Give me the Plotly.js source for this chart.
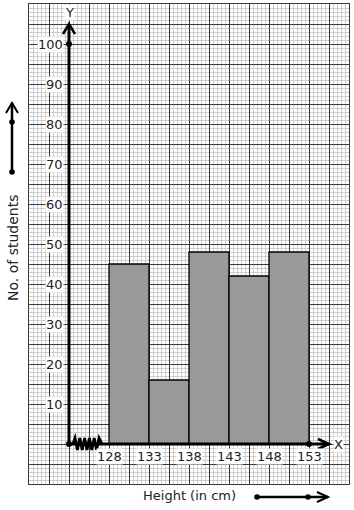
<!DOCTYPE html>
<html>
<head>
<meta charset="utf-8">
<script src="https://cdn.plot.ly/plotly-3.0.1.min.js"></script>
<style>html,body{margin:0;padding:0;background:#fff;}#chart{width:354px;height:510px;}</style>
</head>
<body>
<div id="chart"></div>
<script>
// Data
var classStarts = [128, 133, 138, 143, 148];
var classWidth = 5;
var students = [45, 16, 48, 42, 48];
var xTickLabels = [128, 133, 138, 143, 148, 153];
var yTickLabels = [10, 20, 30, 40, 50, 60, 70, 80, 90, 100];
var xTitle = 'Height (in cm)';
var yTitle = 'No. of students';

var X0 = 123, Y0 = 0;           // origin of the drawn axes (data units)
var XR = [118, 158], YR = [-10, 110];
var W = 354, H = 510, ML = 29, MR = 5, MT = 4, MB = 26;
var PW = W - ML - MR, PH = H - MT - MB;
var ux = PW / (XR[1] - XR[0]);   // px per x unit
var uy = PH / (YR[1] - YR[0]);   // px per y unit
function dx(px) { return px / ux; }
function dy(px) { return px / uy; }
function pxX(p) { return (p - ML) / PW; }
function pxY(p) { return (H - MB - p) / PH; }

var centers = classStarts.map(function (s) { return s + classWidth / 2; });

var trace = {
  type: 'bar',
  x: centers,
  y: students,
  width: classStarts.map(function () { return classWidth; }),
  marker: { color: '#999999', line: { color: '#000', width: 1.3 } },
  hoverinfo: 'skip'
};

var shapes = [];
var axisTopY = 105, axisRightX = 155.5;
// axes lines
shapes.push({ type: 'line', xref: 'x', yref: 'y', x0: X0, y0: Y0, x1: X0, y1: axisTopY, line: { color: '#000', width: 3 } });
shapes.push({ type: 'line', xref: 'x', yref: 'y', x0: X0, y0: Y0, x1: axisRightX, y1: Y0, line: { color: '#000', width: 3 } });
// arrowheads
shapes.push({ type: 'path', xref: 'x', yref: 'y',
  path: 'M' + (X0 - dx(6)) + ',' + (axisTopY - dy(10)) + ' L' + X0 + ',' + axisTopY + ' L' + (X0 + dx(6)) + ',' + (axisTopY - dy(10)),
  line: { color: '#000', width: 2.5 } });
shapes.push({ type: 'path', xref: 'x', yref: 'y',
  path: 'M' + (axisRightX - dx(11)) + ',' + (Y0 + dy(5)) + ' L' + axisRightX + ',' + Y0 + ' L' + (axisRightX - dx(11)) + ',' + (Y0 - dy(5)),
  line: { color: '#000', width: 2.5 } });
// zigzag (kink)
var zz = 'M' + (X0 + dx(4)) + ',' + Y0;
var n = 10, zx0 = X0 + dx(6), zx1 = X0 + dx(30);
for (var i = 0; i <= n; i++) {
  var xx = zx0 + (zx1 - zx0) * i / n;
  var yy = Y0 + (i % 2 === 0 ? dy(6) : -dy(6));
  zz += ' L' + xx + ',' + yy;
}
zz += ' L' + (X0 + dx(33)) + ',' + Y0;
shapes.push({ type: 'path', xref: 'x', yref: 'y', path: zz, line: { color: '#000', width: 2.8 } });
// dots
function dot(x, y) {
  shapes.push({ type: 'circle', xref: 'x', yref: 'y', x0: x - dx(3), x1: x + dx(3), y0: y - dy(3), y1: y + dy(3),
    fillcolor: '#000', line: { color: '#000', width: 0 } });
}
dot(X0, Y0);
dot(X0, yTickLabels[yTickLabels.length - 1]);
dot(xTickLabels[xTickLabels.length - 1], Y0);

// outside arrows (paper)
function pdot(px, py) {
  shapes.push({ type: 'circle', xref: 'paper', yref: 'paper',
    x0: pxX(px - 2.8), x1: pxX(px + 2.8), y0: pxY(py + 2.8), y1: pxY(py - 2.8),
    fillcolor: '#000', line: { color: '#000', width: 0 } });
}
shapes.push({ type: 'line', xref: 'paper', yref: 'paper', x0: pxX(12), y0: pxY(172), x1: pxX(12), y1: pxY(103), line: { color: '#000', width: 2.5 } });
shapes.push({ type: 'path', xref: 'paper', yref: 'paper',
  path: 'M' + pxX(6) + ',' + pxY(113) + ' L' + pxX(12) + ',' + pxY(103) + ' L' + pxX(18) + ',' + pxY(113),
  line: { color: '#000', width: 2 } });
pdot(12, 172); pdot(12, 122);
shapes.push({ type: 'line', xref: 'paper', yref: 'paper', x0: pxX(257), y0: pxY(497), x1: pxX(328), y1: pxY(497), line: { color: '#000', width: 2.5 } });
shapes.push({ type: 'path', xref: 'paper', yref: 'paper',
  path: 'M' + pxX(317) + ',' + pxY(492) + ' L' + pxX(328) + ',' + pxY(497) + ' L' + pxX(317) + ',' + pxY(502),
  line: { color: '#000', width: 2 } });
pdot(257, 497); pdot(308, 497);

var lblFont = { family: 'DejaVu Sans', size: 13, color: '#222' };
var annotations = [];
yTickLabels.forEach(function (v) {
  annotations.push({ xref: 'x', yref: 'y', x: X0, y: v, text: String(v), showarrow: false,
    xanchor: 'right', yanchor: 'middle', xshift: -5, bgcolor: '#fff', borderpad: 0, font: lblFont });
});
xTickLabels.forEach(function (v) {
  annotations.push({ xref: 'x', yref: 'y', x: v, y: Y0, text: String(v), showarrow: false,
    xanchor: 'center', yanchor: 'top', yshift: -4, bgcolor: '#fff', borderpad: 0, font: lblFont });
});
annotations.push({ xref: 'x', yref: 'y', x: X0, y: 108, text: 'Y', showarrow: false, xanchor: 'center', yanchor: 'middle',
  bgcolor: '#fff', borderpad: 0, font: lblFont });
annotations.push({ xref: 'x', yref: 'y', x: axisRightX + dx(9), y: Y0, text: 'X', showarrow: false, xanchor: 'center', yanchor: 'middle',
  bgcolor: '#fff', borderpad: 0, font: lblFont });
annotations.push({ xref: 'paper', yref: 'paper', x: pxX(189), y: pxY(496), text: xTitle, showarrow: false,
  xanchor: 'center', yanchor: 'middle', font: { family: 'DejaVu Sans', size: 13, color: '#222' } });
annotations.push({ xref: 'paper', yref: 'paper', x: pxX(13), y: pxY(248), text: yTitle, showarrow: false, textangle: -90,
  xanchor: 'center', yanchor: 'middle', font: { family: 'DejaVu Sans', size: 14, color: '#222' } });

var layout = {
  width: W, height: H,
  margin: { l: ML, r: MR, t: MT, b: MB, pad: 0 },
  paper_bgcolor: '#fff', plot_bgcolor: '#fff',
  showlegend: false,
  xaxis: {
    range: XR, tick0: XR[0], dtick: 2.5, showgrid: true, gridcolor: '#3a3a3a', gridwidth: 1,
    minor: { dtick: 0.5, showgrid: true, gridcolor: '#cccccc', gridwidth: 1 },
    showline: true, mirror: true, linecolor: '#3a3a3a', linewidth: 1,
    zeroline: false, showticklabels: false, ticks: '', fixedrange: true
  },
  yaxis: {
    range: YR, tick0: 0, dtick: 5, showgrid: true, gridcolor: '#3a3a3a', gridwidth: 1,
    minor: { dtick: 1, showgrid: true, gridcolor: '#cccccc', gridwidth: 1 },
    showline: true, mirror: true, linecolor: '#3a3a3a', linewidth: 1,
    zeroline: false, showticklabels: false, ticks: '', fixedrange: true
  },
  bargap: 0,
  shapes: shapes,
  annotations: annotations
};

Plotly.newPlot('chart', [trace], layout, { displayModeBar: false, staticPlot: true });
</script>
</body>
</html>
